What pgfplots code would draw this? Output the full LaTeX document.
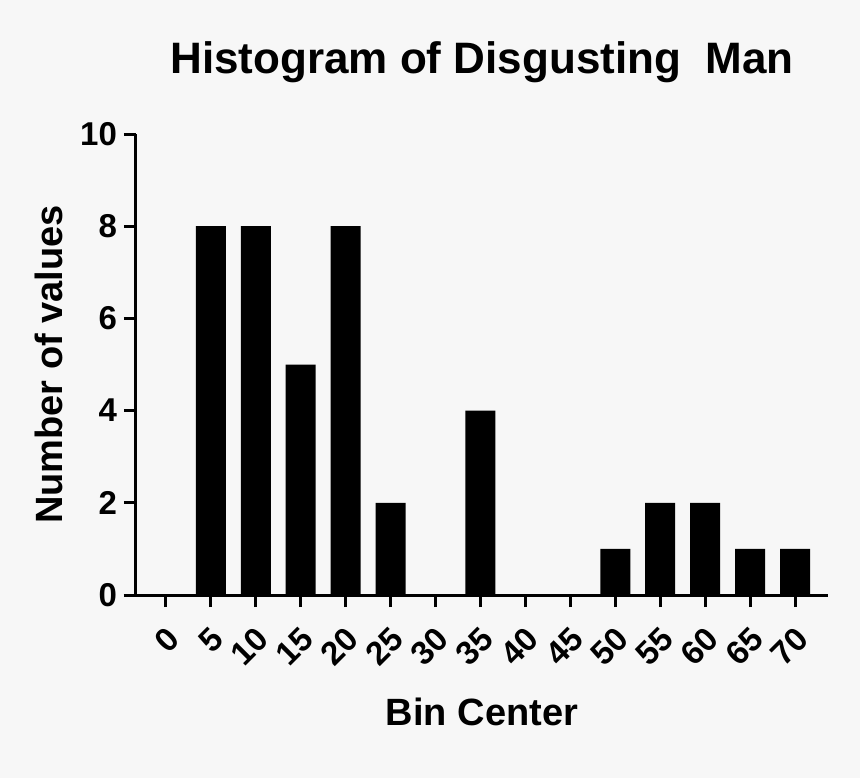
\documentclass[border=0pt]{standalone}
\usepackage{fontspec}
\setmainfont{Liberation Sans}
\usepackage{pgfplots}
\pgfplotsset{compat=1.18}
\definecolor{bgcol}{HTML}{F7F7F7}

\begin{document}
\begin{tikzpicture}
\fill[bgcol] (-68pt,-91.5pt) rectangle (362pt,297.5pt);
\begin{axis}[
  scale only axis,
  width=346pt, height=230.5pt,
  ybar, bar width=15pt,
  xmin=-3.33, xmax=73.67,
  ymin=0, ymax=10,
  xtick={0,5,...,70},
  ytick={0,2,...,10},
  axis lines=left,
  axis line style={line width=1.5pt, -},
  x axis line style={shorten <=-6pt},
  tick style={line width=1.5pt, black},
  tick align=outside,
  major tick length=6pt,
  /pgf/number format/assume math mode=true,
  ticklabel style={font=\fontsize{16.5}{18}\selectfont\bfseries},
  xticklabel style={rotate=45, anchor=east, xshift=-3.5pt, yshift=-12pt},
  title={Histogram of Disgusting\ \ Man},
  title style={at={(axis description cs:0.5,1.106)}, anchor=base, yshift=0pt, font=\fontsize{22}{26}\selectfont\bfseries},
  xlabel={Bin Center},
  xlabel style={at={(axis description cs:0.5,-0.282)}, anchor=base, font=\fontsize{19}{22}\selectfont\bfseries},
  ylabel={Number of values},
  ylabel style={at={(axis description cs:-0.1055,0.5)}, anchor=base, font=\fontsize{19}{22}\selectfont\bfseries},
]
\addplot[fill=black, draw=none] coordinates {
  (0,0) (5,8) (10,8) (15,5) (20,8) (25,2) (30,0) (35,4)
  (40,0) (45,0) (50,1) (55,2) (60,2) (65,1) (70,1)};
\end{axis}
\end{tikzpicture}
\end{document}
